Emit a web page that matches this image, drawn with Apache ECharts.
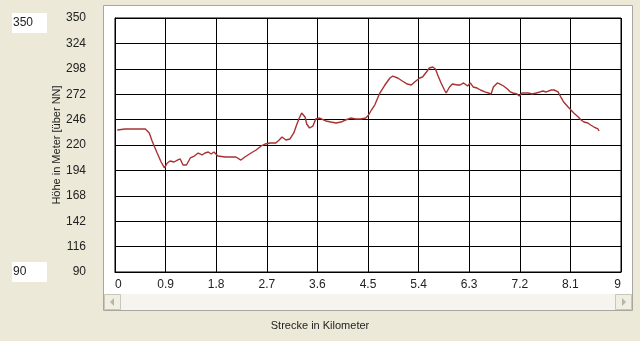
<!DOCTYPE html>
<html><head><meta charset="utf-8">
<script src="https://cdn.jsdelivr.net/npm/echarts@6/dist/echarts.min.js"></script>
<style>html,body{margin:0;padding:0;background:#ECE9D8;overflow:hidden}#c{width:640px;height:341px;}</style>
</head><body><div id="c"></div>
<script>
// ---- data ----
const distanceKm = [0.04,0.18,0.36,0.54,0.61,0.66,0.75,0.82,0.88,0.93,0.98,1.05,1.11,1.16,1.21,1.27,1.34,1.41,1.48,1.55,1.60,1.66,1.71,1.76,1.83,1.96,2.06,2.15,2.24,2.31,2.42,2.51,2.60,2.67,2.76,2.86,2.92,2.97,3.04,3.11,3.18,3.23,3.27,3.32,3.38,3.41,3.46,3.52,3.57,3.64,3.75,3.84,3.93,4.02,4.10,4.19,4.28,4.37,4.46,4.51,4.56,4.62,4.71,4.80,4.89,4.94,5.03,5.11,5.20,5.27,5.33,5.42,5.47,5.54,5.59,5.65,5.70,5.74,5.80,5.86,5.89,5.95,6.00,6.09,6.14,6.20,6.27,6.32,6.37,6.44,6.50,6.58,6.64,6.69,6.73,6.80,6.85,6.91,6.98,7.03,7.08,7.15,7.19,7.24,7.30,7.35,7.42,7.49,7.56,7.61,7.67,7.76,7.81,7.88,7.93,7.98,8.06,8.11,8.16,8.24,8.29,8.34,8.41,8.46,8.52,8.59,8.61];
const elevationM = [235.4,236.4,236.4,236.4,232.3,224.1,211.8,202.6,196.5,201.6,203.6,202.6,204.6,205.7,199.5,199.5,206.7,208.7,211.8,209.8,211.8,212.8,210.8,212.8,208.7,207.7,207.7,207.7,204.6,207.7,211.8,214.9,219.0,221.0,222.0,222.0,225.1,228.2,225.1,226.1,232.3,240.5,246.6,252.8,248.7,241.5,237.4,239.4,246.6,247.6,244.6,243.5,242.5,243.5,245.6,247.6,246.6,246.6,247.6,250.7,255.8,260.9,273.2,281.4,288.6,290.6,288.6,285.5,282.4,281.4,284.5,288.6,289.6,294.7,298.8,299.8,297.8,291.7,283.5,276.3,273.2,279.4,282.4,281.4,281.4,283.5,280.4,283.5,279.4,278.3,276.3,274.3,273.2,272.2,279.4,283.5,282.4,280.4,277.3,274.3,273.2,272.2,270.2,273.2,273.2,273.2,272.2,273.2,274.3,275.3,274.3,276.3,276.3,274.3,269.1,264.0,258.9,255.8,252.8,248.7,245.6,243.5,242.5,240.5,238.4,236.4,234.3];
const xMin = 0, xMax = 9, xStep = 0.9;
const yMin = 90, yMax = 350, yStep = 26;
const xTitle = 'Strecke in Kilometer';
const yTitle = 'Höhe in Meter [über NN]';
const boxTexts = [String(yMax), String(yMin)];

const FONT = 'Liberation Sans, Arial, sans-serif';
const chart = echarts.init(document.getElementById('c'), null, {renderer:'canvas'});
const pts = distanceKm.map((d,i)=>[d, elevationM[i]]);

function arrow(cx, cy, dir){
  const s = dir === 'left' ? -1 : 1;
  return {type:'polygon', z:-5, silent:true,
    shape:{points:[[cx - 2*s, cy-4],[cx + 2*s, cy],[cx - 2*s, cy+4]]},
    style:{fill:'#B5B4AC'}};
}

chart.setOption({
  backgroundColor:'#ECE9D8',
  animation:false,
  grid:{left:115, top:18, width:506, height:254, show:true, borderColor:'#000', borderWidth:1, backgroundColor:'#fff'},
  xAxis:{type:'value', min:xMin, max:xMax, interval:xStep,
    axisLine:{show:true, lineStyle:{color:'#000', width:1}},
    axisTick:{show:false},
    splitLine:{show:true, lineStyle:{color:'#000', width:1}},
    axisLabel:{color:'#222', fontFamily:FONT, fontSize:12, margin:7,
      alignMinLabel:'left', alignMaxLabel:'right',
      formatter:v=>String(+(+v).toFixed(1))}
  },
  yAxis:{type:'value', min:yMin, max:yMax, interval:yStep,
    name:yTitle, nameLocation:'middle', nameGap:53, nameRotate:90, nameMoveOverlap:false,
    nameTextStyle:{color:'#222', fontFamily:FONT, fontSize:11},
    axisLine:{show:true, lineStyle:{color:'#000', width:1}},
    axisTick:{show:false},
    splitLine:{show:true, lineStyle:{color:'#000', width:1}},
    axisLabel:{color:'#222', fontFamily:FONT, fontSize:12, margin:29}
  },
  graphic:{elements:[
    {type:'rect', z:-20, silent:true, shape:{x:103.5, y:5.5, width:529, height:305},
      style:{fill:'#fff', stroke:'#A7A6A0', lineWidth:1}},
    {type:'rect', z:-15, silent:true, shape:{x:104, y:294, width:528, height:16},
      style:{fill:'#F5F4EE', stroke:null}},
    {type:'rect', z:-10, silent:true, shape:{x:104.5, y:294.5, width:16, height:15},
      style:{fill:'#F1EFE2', stroke:'#C9C7BA', lineWidth:1}},
    {type:'rect', z:-10, silent:true, shape:{x:615.5, y:294.5, width:16, height:15},
      style:{fill:'#F1EFE2', stroke:'#C9C7BA', lineWidth:1}},
    arrow(112, 302, 'left'),
    arrow(624, 302, 'right'),
    {type:'rect', silent:true, shape:{x:11.5, y:12.5, width:36, height:21},
      style:{fill:'#fff', stroke:'#ECE9D8'}},
    {type:'text', silent:true, x:13, y:23,
      style:{text:boxTexts[0], fill:'#222', font:'12px '+FONT, textVerticalAlign:'middle', verticalAlign:'middle'}},
    {type:'rect', silent:true, shape:{x:11.5, y:261.5, width:36, height:21},
      style:{fill:'#fff', stroke:'#ECE9D8'}},
    {type:'text', silent:true, x:13, y:272,
      style:{text:boxTexts[1], fill:'#222', font:'12px '+FONT, textVerticalAlign:'middle', verticalAlign:'middle'}},
    {type:'text', silent:true, x:320, y:326,
      style:{text:xTitle, fill:'#222', font:'11px '+FONT, align:'center', verticalAlign:'middle', textAlign:'center', textVerticalAlign:'middle'}}
  ]},
  series:[{type:'line', data:pts, showSymbol:false, symbol:'none',
    lineStyle:{color:'#A83232', width:1.4}, clip:true}]
});
</script></body></html>
